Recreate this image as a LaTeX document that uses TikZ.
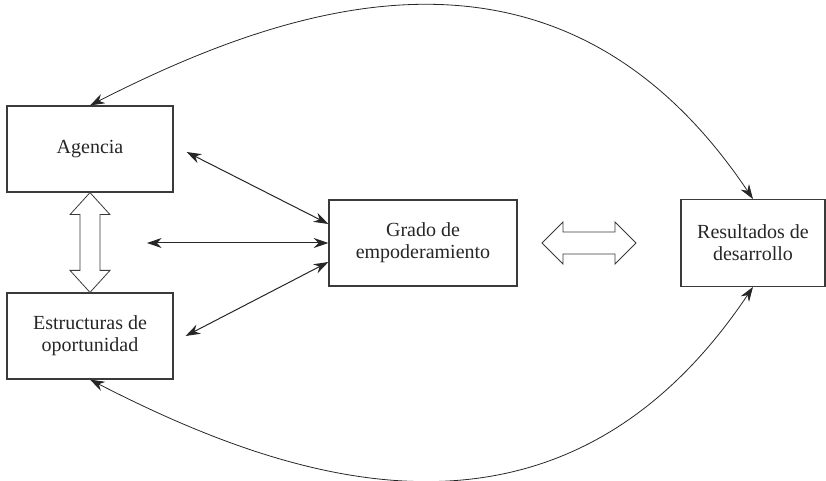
\documentclass[tikz,border=0pt]{standalone}
\usepackage{fontspec}
\setmainfont{Liberation Serif}
\usepackage{tikz}
\usetikzlibrary{positioning,arrows.meta,calc}
\usepackage{xcolor}
\definecolor{InkGray}{HTML}{262626}
\definecolor{BoxGray}{HTML}{3A3A3A}
\begin{document}
\begin{tikzpicture}[x=0.75pt,y=-0.75pt,
  box/.style={draw=BoxGray,line width=0.9pt,rectangle,align=center,inner sep=0pt,
    font=\fontsize{15}{16.5}\selectfont,text=InkGray},
  biarrow/.style={draw=InkGray,line width=0.75pt,
    {Stealth[length=11pt,width=7.5pt]}-{Stealth[length=11pt,width=7.5pt]}},
  hollow/.style={draw=BoxGray,line width=0.6pt,fill=white,line join=miter}]
\useasboundingbox (0,0) rectangle (826,481);
\node[box,minimum width=124.5pt,minimum height=64.5pt] (agencia) at (90,149) {Agencia};
\node[box,minimum width=124.5pt,minimum height=64.5pt] (estructuras) at (90,336) {Estructuras de\\oportunidad};
\node[box,minimum width=141pt,minimum height=64.5pt] (grado) at (423,243) {Grado de\\empoderamiento};
\node[box,minimum width=108pt,minimum height=65pt] (resultados) at (753,243) {Resultados de\\desarrollo};
\coordinate (midstart) at (147,243);
\coordinate (hl) at (542,243);
\coordinate (hr) at (636,243);
\draw[biarrow] ([xshift=9.75pt,yshift=-2.25pt]agencia.east) -- ([yshift=14.25pt]grado.west);
\draw[biarrow] (midstart) -- (grado.west);
\draw[biarrow] ([xshift=9pt]estructuras.east) -- ([yshift=-14.25pt]grado.west);
\draw[hollow] (agencia.south) -- ++(20,22) -- ++(-10,0) -- ($(estructuras.north)+(10,-22)$)
  -- ++(10,0) -- (estructuras.north) -- ++(-20,-22) -- ++(10,0)
  -- ($(agencia.south)+(-10,22)$) -- ++(-10,0) -- cycle;
\draw[hollow] (hl) -- ++(21,-21) -- ++(0,10) -- ($(hr)+(-21,-11)$) -- ++(0,-10)
  -- (hr) -- ++(-21,21) -- ++(0,-10) -- ($(hl)+(21,11)$) -- ++(0,10) -- cycle;
\draw[biarrow,line width=0.6pt] (resultados.north) .. controls (561,-87) and (295,1) .. (agencia.north);
\draw[biarrow,line width=0.6pt] (resultados.south) .. controls (561,573) and (295,485) .. (estructuras.south);
\end{tikzpicture}
\end{document}
